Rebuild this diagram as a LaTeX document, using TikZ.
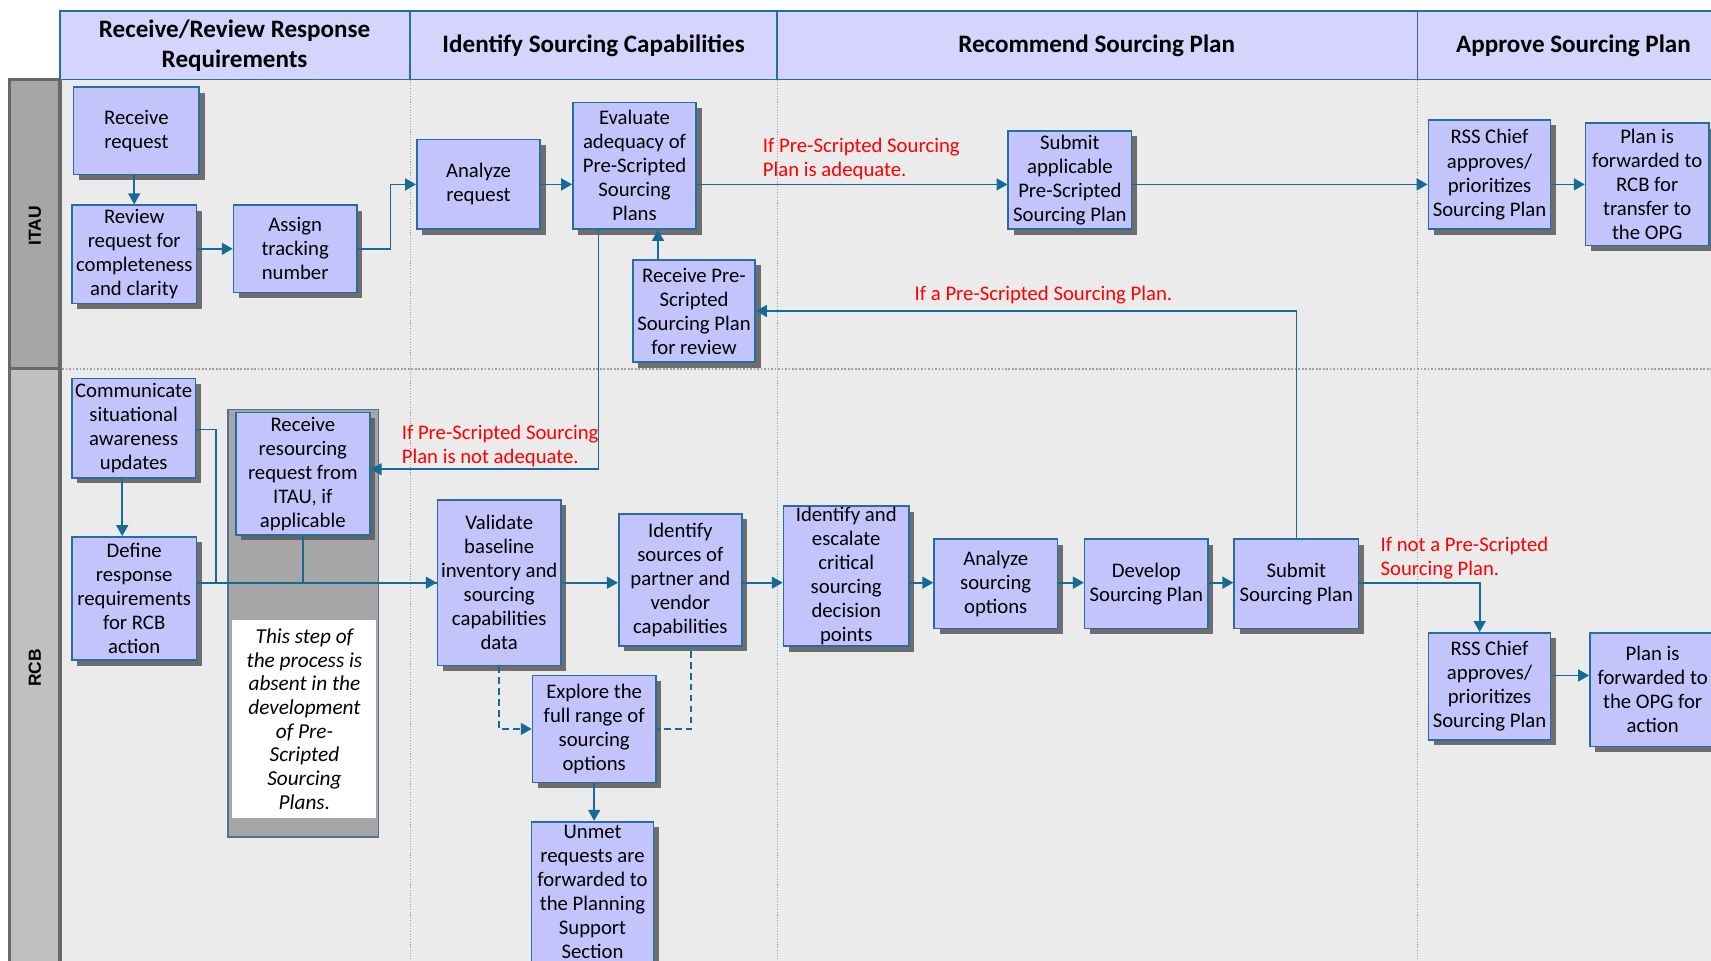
\documentclass[tikz,border=0pt]{standalone}
\usepackage{fontspec}
\setmainfont{Carlito}
\newfontfamily\lanefont{Liberation Sans}
\usetikzlibrary{arrows.meta,shadows}
\definecolor{boxfill}{RGB}{196,196,252}
\definecolor{boxline}{RGB}{38,110,160}
\definecolor{arrowc}{RGB}{24,106,150}
\definecolor{hdrfill}{RGB}{212,212,252}
\definecolor{bodyfill}{RGB}{235,235,235}
\definecolor{itaufill}{RGB}{166,166,166}
\definecolor{rcbfill}{RGB}{192,192,192}
\definecolor{laneline}{RGB}{105,105,105}
\definecolor{redtxt}{RGB}{255,0,0}
\definecolor{coldivc}{RGB}{140,162,178}
\definecolor{contline}{RGB}{80,112,140}
\newcommand\bxfont{\fontsize{19}{22}\selectfont}
\newcommand\hdfont{\fontsize{23}{27}\selectfont\bfseries}
\newcommand\rdfont{\fontsize{19}{22}\selectfont}
\newcommand\itfont{\fontsize{19.5}{21.7}\selectfont\itshape}
\tikzset{
  box/.style={draw=boxline, line width=1.5pt, fill=boxfill, align=center, inner sep=1pt, font=\bxfont,
    drop shadow={shadow xshift=5pt, shadow yshift=-5pt, fill=black!65, opacity=0.85}},
  conn/.style={draw=arrowc, line width=1.5pt},
  arr/.style={conn, -{Triangle[length=10pt,width=11pt]}},
  dconn/.style={conn, dash pattern=on 6pt off 4pt},
  darr/.style={dconn, -{Triangle[length=10pt,width=11pt]}},
  redlab/.style={text=redtxt, font=\rdfont, align=left, inner sep=0pt, anchor=west},
  hdr/.style={font=\hdfont, align=center, inner sep=0pt},
  lanelab/.style={font=\lanefont\fontsize{16}{18}\selectfont\bfseries, rotate=90, inner sep=0pt},
  coldiv/.style={draw=coldivc, line width=0.7pt, dash pattern=on 1pt off 1.5pt},
  hdrline/.style={draw=boxline, line width=1.5pt}
}
\begin{document}
\begin{tikzpicture}[x=1pt,y=-1pt]
\useasboundingbox (0,0) rectangle (1568,880);
\fill[white] (0,0) rectangle (1568,880);
% body
\fill[bodyfill] (55,73) rectangle (1580,890);
% lanes
\filldraw[fill=itaufill, draw=laneline, line width=3pt] (9,73) rectangle (55,338);
\filldraw[fill=rcbfill, draw=laneline, line width=3pt] (9,338) rectangle (55,895);
\node[lanelab] (itau) at (32,207) {ITAU};
\node[lanelab] (rcb) at (32,612) {RCB};
% column dividers
\draw[coldiv] (376,73) -- (376,880);
\draw[coldiv] (712,73) -- (712,880);
\draw[coldiv] (1299,73) -- (1299,880);
% lane separator
\draw[draw=gray!75, line width=2.2pt, dash pattern=on 1.6pt off 1.6pt] (57,338) -- (1568,338);
% header
\filldraw[fill=hdrfill, hdrline] (55,10) rectangle (1580,73);
\draw[hdrline] (376,10) -- (376,73);
\draw[hdrline] (712,10) -- (712,73);
\draw[hdrline] (1299,10) -- (1299,73);
\node[hdr] (h1) at (215,42) {Receive/Review Response\\Requirements};
\node[hdr] (h2) at (544,42) {Identify Sourcing Capabilities};
\node[hdr] (h3) at (1005,42) {Recommend Sourcing Plan};
\node[hdr] (h4) at (1442,42) {Approve Sourcing Plan};
% container
\filldraw[fill=itaufill, draw=contline, line width=1.2pt] (209,375) rectangle (347,767);
\node[fill=white, minimum width=132pt, minimum height=182pt, align=center, font=\itfont, inner sep=0pt] (note) at (279,659)
  {This step of\\the process is\\absent in the\\development\\of Pre-\\Scripted\\Sourcing\\Plans.};
% ITAU nodes
\node[box, minimum width=115pt, minimum height=80pt] (rr) at (125,120) {Receive\\request};
\node[box, minimum width=114pt, minimum height=90pt] (rev) at (123,233) {Review\\request for\\completeness\\and clarity};
\node[box, minimum width=113pt, minimum height=80pt] (asg) at (270.5,228) {Assign\\tracking\\number};
\node[box, minimum width=113pt, minimum height=82pt] (ana) at (438.5,169) {Analyze\\request};
\node[box, minimum width=113pt, minimum height=116pt] (eva) at (581.5,152) {Evaluate\\adequacy of\\Pre-Scripted\\Sourcing\\Plans};
\node[box, minimum width=112pt, minimum height=94pt] (rps) at (636,285) {Receive Pre-\\Scripted\\Sourcing Plan\\for review};
\node[box, minimum width=113pt, minimum height=90pt] (sub1) at (980.5,165) {Submit\\applicable\\Pre-Scripted\\Sourcing Plan};
\node[box, minimum width=112pt, minimum height=100pt] (rss1) at (1365,160) {RSS Chief\\approves/\\prioritizes\\Sourcing Plan};
\node[box, minimum width=113pt, minimum height=112pt] (fwd1) at (1509.5,169) {Plan is\\forwarded to\\RCB for\\transfer to\\the OPG};
% RCB nodes
\node[box, minimum width=113pt, minimum height=91pt] (com) at (122.5,392.5) {Communicate\\situational\\awareness\\updates};
\node[box, minimum width=114pt, minimum height=113pt] (def) at (123,548.5) {Define\\response\\requirements\\for RCB\\action};
\node[box, minimum width=123pt, minimum height=112pt] (rrr) at (277.5,434) {Receive\\resourcing\\request from\\ITAU, if\\applicable};
\node[box, minimum width=113pt, minimum height=152pt] (val) at (457.5,534) {Validate\\baseline\\inventory and\\sourcing\\capabilities\\data};
\node[box, minimum width=113pt, minimum height=121pt] (ids) at (623.5,531.5) {Identify\\sources of\\partner and\\vendor\\capabilities};
\node[box, minimum width=115pt, minimum height=128pt] (ide) at (775.5,528) {Identify and\\escalate\\critical\\sourcing\\decision\\points};
\node[box, minimum width=113pt, minimum height=82pt] (aso) at (912.5,535) {Analyze\\sourcing\\options};
\node[box, minimum width=113pt, minimum height=82pt] (dev) at (1050.5,535) {Develop\\Sourcing Plan};
\node[box, minimum width=114pt, minimum height=82pt] (sub2) at (1188,535) {Submit\\Sourcing Plan};
\node[box, minimum width=112pt, minimum height=98pt] (rss2) at (1365,629) {RSS Chief\\approves/\\prioritizes\\Sourcing Plan};
\node[box, minimum width=115pt, minimum height=104pt] (fwd2) at (1514.5,632) {Plan is\\forwarded to\\the OPG for\\action};
\node[box, minimum width=113pt, minimum height=98pt] (exp) at (544.5,668) {Explore the\\full range of\\sourcing\\options};
\node[box, minimum width=112pt, minimum height=128pt] (unm) at (543,817) {Unmet\\requests are\\forwarded to\\the Planning\\Support\\Section};
% ITAU connectors
\draw[arr] (rev.north |- rr.south) -- (rev.north);
\draw[arr] (rev.east |- asg.west) -- (asg.west);
\draw[arr] (asg.east) -- ++(30,0) |- (ana.west);
\draw[arr] (ana.east) -- (ana.east -| eva.west);
\draw[arr] (eva.east |- ana.east) -- (sub1.west |- ana.east);
\draw[arr] (sub1.east |- ana.east) -- (rss1.west |- ana.east);
\draw[arr] (rss1.east |- ana.east) -- (fwd1.west |- ana.east);
\draw[arr] ([xshift=-33pt]rps.north) -- ([xshift=-33pt]rps.north |- eva.south);
\draw[arr] (sub2.north) |- (rps.east);
\draw[arr] ([xshift=-33pt]eva.south) |- ([yshift=4pt]rrr.east);
% RCB connectors
\draw[arr] ([xshift=-10.5pt]com.south) -- ([xshift=-10.5pt]com.south |- def.north);
\draw[conn] ([yshift=-1pt]com.east) -- ++(18,0) |- (val.west);
\draw[conn] (rrr.south) -- (rrr.south |- val.west);
\draw[arr] (def.east |- val.west) -- (val.west);
\draw[arr] (val.east) -- (val.east -| ids.west);
\draw[arr] (ids.east |- val.east) -- (ide.west |- val.east);
\draw[arr] (ide.east |- val.east) -- (aso.west |- val.east);
\draw[arr] (aso.east |- val.east) -- (dev.west |- val.east);
\draw[arr] (dev.east |- val.east) -- (sub2.west |- val.east);
\draw[arr] (sub2.east |- val.east) -| ([xshift=-9pt]rss2.north);
\draw[arr] ([yshift=10pt]rss2.east) -- ([yshift=10pt]rss2.east -| fwd2.west);
\draw[darr] (val.south) |- (exp.west);
\draw[dconn] ([xshift=10pt,yshift=-4pt]ids.south) |- (exp.east);
\draw[arr] (exp.south) -- (exp.south |- unm.north);
% red labels
\node[redlab] (l1) at (699,146) {If Pre-Scripted Sourcing\\Plan is adequate.};
\node[redlab] (l2) at (838,270) {If a Pre-Scripted Sourcing Plan.};
\node[redlab] (l3) at (368,409) {If Pre-Scripted Sourcing\\Plan is not adequate.};
\node[redlab] (l4) at (1265,511) {If not a Pre-Scripted\\Sourcing Plan.};
\end{tikzpicture}
\end{document}
